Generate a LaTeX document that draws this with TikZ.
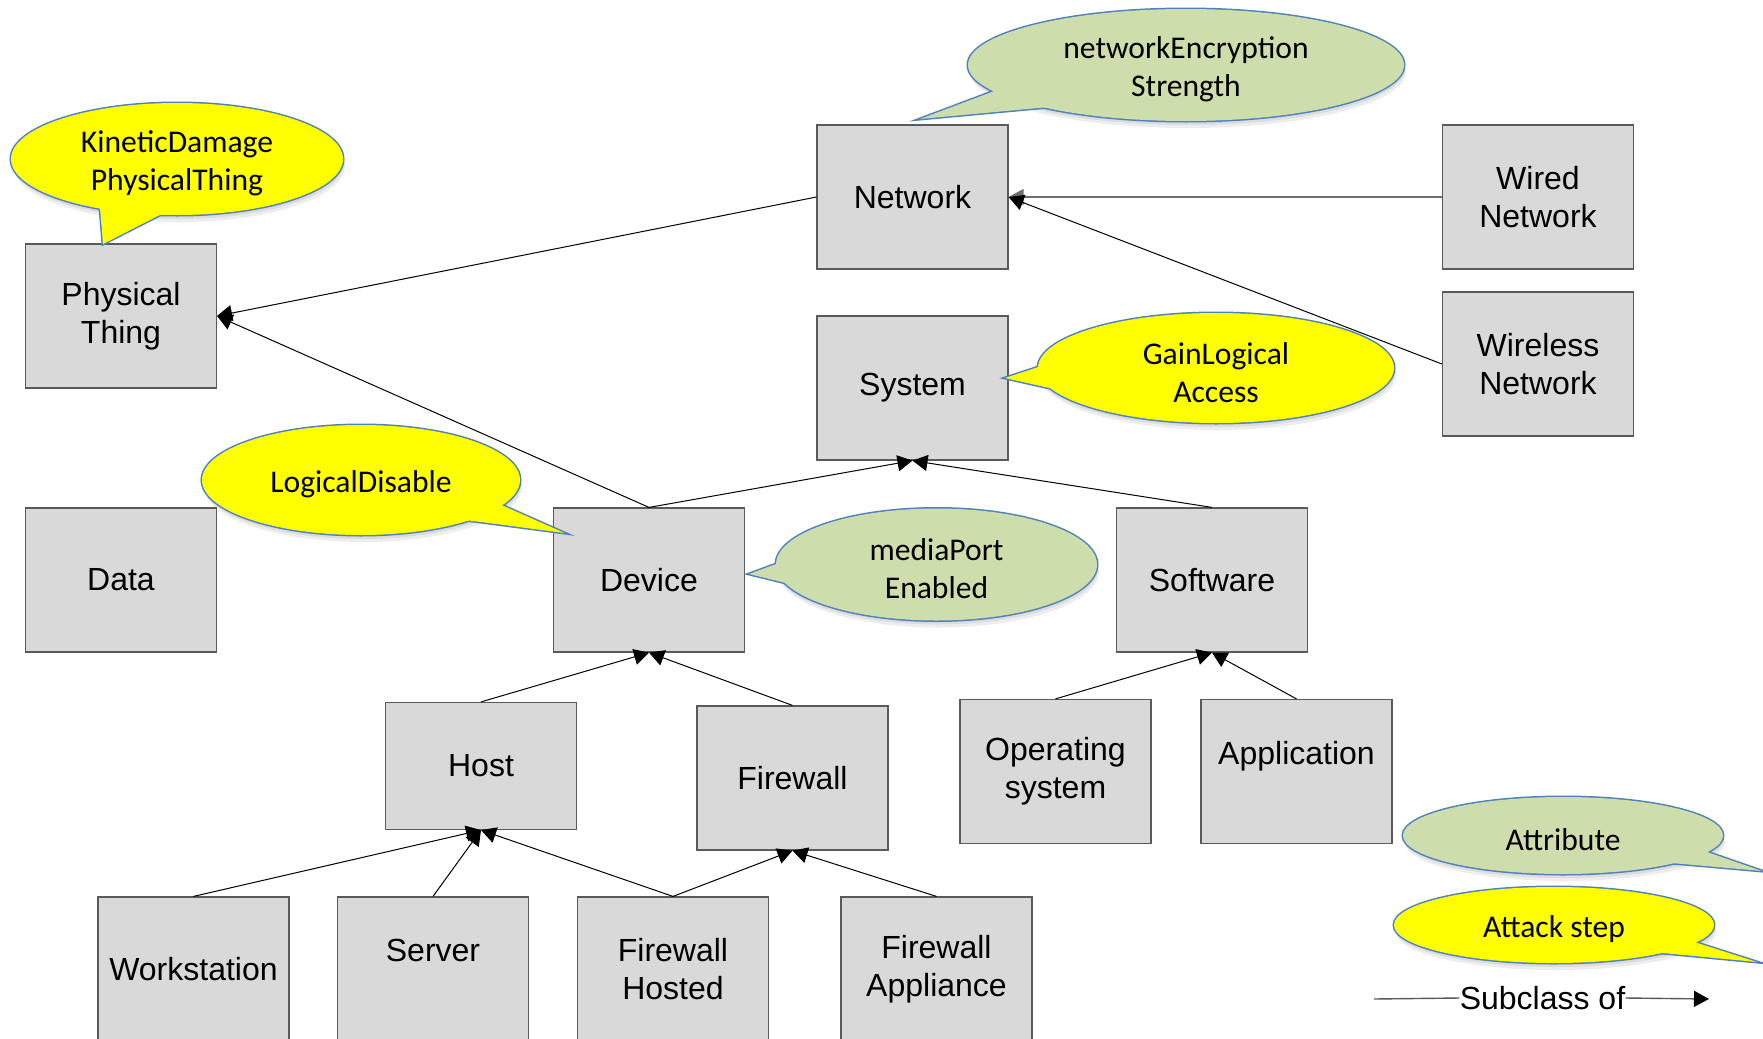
\documentclass[tikz,border=0pt]{standalone}
\usepackage{fontspec}
\setmainfont{Liberation Sans}
\newfontfamily\bubfont{Carlito}
\usetikzlibrary{arrows.meta,calc}

\definecolor{boxfill}{RGB}{217,217,217}
\definecolor{boxline}{RGB}{90,90,90}
\definecolor{bubedge}{RGB}{79,129,189}
\definecolor{stepyellow}{RGB}{255,255,0}
\definecolor{attrgreen}{RGB}{206,221,172}
\definecolor{wireline}{RGB}{110,110,110}

\tikzset{
  cls/.style={draw=boxline, fill=boxfill, line width=0.6pt,
    minimum width=95.5pt, minimum height=72pt, inner sep=0pt,
    align=center, font=\fontsize{16}{19.1}\selectfont},
  subof/.style={-{Triangle[length=7.5pt,width=8pt]}, line width=0.5pt, black},
  bubstroke/.style={draw=bubedge, line width=1.5pt, line join=miter},
  bubshade/.style={fill=black, opacity=0.07},
  bubtext/.style={align=center, inner sep=0pt, yshift=-2.2pt,
    font=\bubfont\fontsize{15.8}{19.1}\selectfont},
  legtext/.style={inner sep=0pt, font=\fontsize{16}{19.1}\selectfont},
}

% speech bubble: name, centre, x radius, y radius, base A, tip, base B, fill, text
\newcommand{\bubble}[9]{%
  \fill[bubshade, xshift=0.5pt, yshift=-2pt] #2 ellipse[x radius=#3, y radius=#4];
  \fill[bubshade, xshift=1pt, yshift=-3.5pt] #2 ellipse[x radius=#3, y radius=#4];
  \draw[bubstroke] #2 ellipse[x radius=#3, y radius=#4];
  \draw[bubstroke] #5 -- #6 -- #7;
  \fill[#8] #2 ellipse[x radius=#3, y radius=#4];
  \fill[#8] #5 -- #6 -- #7 -- cycle;
  \node[bubtext] (#1) at #2 {#9};
}

\begin{document}
\begin{tikzpicture}[x=0.5pt, y=-0.5pt]
\useasboundingbox (0,0) rectangle (1763,1039);
\fill[white] (0,0) rectangle (1763,1039);

% class boxes
\node[cls] (phys)     at (121,316)    {Physical\\Thing};
\node[cls] (network)  at (912.5,197)  {Network};
\node[cls] (wired)    at (1538,197)   {Wired\\Network};
\node[cls] (wireless) at (1538,364)   {Wireless\\Network};
\node[cls] (system)   at (912.5,388)  {System};
\node[cls] (data)     at (121,580)    {Data};
\node[cls] (device)   at (649,580)    {Device};
\node[cls] (software) at (1212,580)   {Software};
\node[cls, minimum height=63.5pt] (host) at (481,766) {Host};
\node[cls] (firewall) at (792.5,778)  {Firewall};
\node[cls] (os)       at (1055.5,771.5) {Operating\\system};
\node[cls] (app)      at (1296.5,771.5) {Application\\\mbox{}};
\node[cls] (ws)       at (193.5,969)  {Workstation};
\node[cls] (server)   at (433,969)    {Server\\\mbox{}};
\node[cls] (fwh)      at (673,969)    {Firewall\\Hosted};
\node[cls] (fwa)      at (936.5,969)  {Firewall\\Appliance};

% attack steps and attributes
\bubble{kinetic}{(177,159)}{83pt}{28pt}{(99.6,203)}{(103,244)}{(165.7,212)}{stepyellow}{KineticDamage\\PhysicalThing}
\bubble{encrypt}{(1186,65)}{109pt}{28pt}{(1005,87)}{(920,119)}{(1060,106)}{attrgreen}{networkEncryption\\Strength}
\bubble{gain}{(1216,368)}{89pt}{27.5pt}{(1046,364.5)}{(1005,378)}{(1058,390)}{stepyellow}{GainLogical\\Access}
\bubble{disable}{(361,480)}{79.5pt}{27.5pt}{(497.6,503.3)}{(564.5,533)}{(462.4,519.6)}{stepyellow}{LogicalDisable}
\bubble{media}{(936.5,564.5)}{80.25pt}{28pt}{(783,561.5)}{(749,574)}{(794,585)}{attrgreen}{mediaPort\\Enabled}
\bubble{attrkey}{(1563,835.5)}{80pt}{19.25pt}{(1697,848.5)}{(1762,871)}{(1660,862)}{attrgreen}{Attribute}
\bubble{stepkey}{(1554,925)}{80pt}{19pt}{(1688,940)}{(1757,962)}{(1652,952)}{stepyellow}{Attack step}

% subclass relations
\draw[subof] (network.west) -- (phys.east);
\draw[subof] (device.north) -- (phys.east);
\draw[subof, draw=wireline, line width=0.75pt] (wired.west) -- (network.east);
\draw[subof] (wireless.west) -- (network.east);
\draw[subof] (device.north) -- (system.south);
\draw[subof] (software.north) -- (system.south);
\draw[subof] (host.north) -- (device.south);
\draw[subof] (firewall.north) -- (device.south);
\draw[subof] (os.north) -- (software.south);
\draw[subof] (app.north) -- (software.south);
\draw[subof] (ws.north) -- (host.south);
\draw[subof] (server.north) -- (host.south);
\draw[subof] (fwh.north) -- (host.south);
\draw[subof] (fwh.north) -- (firewall.south);
\draw[subof] (fwa.north) -- (firewall.south);

% legend
\coordinate (legstart) at (1374,999);
\coordinate (legend) at (1709,999);
\node[legtext] (legtxt) at (1542.5,998) {Subclass of};
\draw[boxline, line width=0.7pt] (legstart) -- (legtxt.west);
\draw[-{Triangle[length=7.5pt,width=8pt,color=black]}, draw=boxline, line width=0.7pt] (legtxt.east) -- (legend);
\end{tikzpicture}
\end{document}
